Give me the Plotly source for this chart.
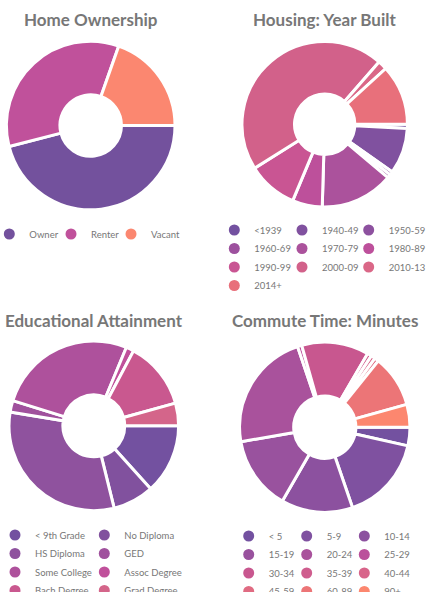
import plotly.graph_objects as go

W, H = 441, 592

# ---------------- data ----------------
titles = ["Home Ownership", "Housing: Year Built", "Educational Attainment", "Commute Time: Minutes"]

home_labels = ["Owner", "Renter", "Vacant"]
home_values = [46.0, 34.4, 19.6]
home_colors = ["#73519d", "#c0519b", "#fb8770"]

year_labels = ["<1939", "1940-49", "1950-59", "1960-69", "1970-79", "1980-89",
               "1990-99", "2000-09", "2010-13", "2014+"]
year_values = [0.8, 8.9, 0.7, 0.7, 14.2, 5.8, 9.7, 45.0, 1.8, 11.7]
year_colors = ["#7351a0", "#80519f", "#8d519f", "#9d519e", "#ab529c", "#bd509b",
               "#c95593", "#d2618a", "#da6787", "#e8707b"]

edu_labels = ["< 9th Grade", "No Diploma", "HS Diploma", "GED", "Some College",
              "Assoc Degree", "Bach Degree", "Grad Degree"]
edu_values = [13.3, 7.8, 31.4, 2.2, 26.4, 1.5, 12.9, 4.3]
edu_colors = ["#7351a0", "#81519e", "#8f529e", "#a0519d", "#ae519c", "#c0509b",
              "#c9588f", "#d4658a"]

commute_labels = ["< 5", "5-9", "10-14", "15-19", "20-24", "25-29", "30-34",
                  "35-39", "40-44", "45-59", "60-89", "90+"]
commute_values = [3.5, 16.1, 13.5, 13.9, 22.4, 0.8, 12.7, 0.8, 0.8, 0.8, 9.8, 4.3]
commute_colors = ["#7351a0", "#7f51a0", "#8c519f", "#99529e", "#a9529c", "#bb509b",
                  "#c8578f", "#cf5d8e", "#d8648a", "#e06b82", "#ec7577", "#fc876f"]

charts = [
    (home_labels, home_values, home_colors),
    (year_labels, year_values, year_colors),
    (edu_labels, edu_values, edu_colors),
    (commute_labels, commute_values, commute_colors),
]

# ---------------- layout geometry (pixels) ----------------
pie_geom = [(90.7, 125.5, 84.3), (324.7, 124.3, 82.7), (93.8, 425.8, 84.8), (324.8, 427.2, 85.2)]
title_pos = [(90.7, 19.5), (324.7, 19.5), (93.8, 320.0), (324.5, 320.0)]
# legend grid: column marker centres (x), first row marker centre (y), row step
legend_cols = [[13.3, 75.0, 135.0], [238.3, 306.0, 372.7], [19.0, 108.3], [252.7, 310.7, 368.3]]
legend_row0 = [234.0, 230.0, 535.0, 536.0]
ROW_STEP = 18.5
MARKER_SHIFT = -4.0   # compromise: plotly puts text 20px right of marker centre (ref: 11px)

TXT = "#777777"
fig = go.Figure()
legend_layouts = {}
leg_count = 0

for i, (labels, values, colors) in enumerate(charts):
    cx, cy, r = pie_geom[i]
    fig.add_trace(go.Pie(
        labels=labels, values=values, sort=False, direction="clockwise", rotation=90,
        hole=0.365, textinfo="none", showlegend=False,
        marker=dict(colors=colors, line=dict(color="white", width=3)),
        domain=dict(x=[(cx - r) / W, (cx + r) / W], y=[1 - (cy + r) / H, 1 - (cy - r) / H]),
        hovertemplate="%{label}: %{percent}<extra></extra>",
    ))
    cols = legend_cols[i]
    ncol = len(cols)
    for k, (lab, col) in enumerate(zip(labels, colors)):
        row, c = divmod(k, ncol)
        if c == 0:
            leg_count += 1
            lid = "legend" if leg_count == 1 else f"legend{leg_count}"
            mx = cols[0] + MARKER_SHIFT
            my = legend_row0[i] + row * ROW_STEP
            legend_layouts[lid] = dict(
                orientation="h", x=(mx - 20) / W, y=1 - (my - 14.5) / H,
                xanchor="left", yanchor="top", borderwidth=0,
                bgcolor="rgba(0,0,0,0)", entrywidthmode="pixels",
                font=dict(family="Lato", size=9.5, color=TXT),
                itemclick=False, itemdoubleclick=False, traceorder="normal",
            )
        last_in_row = (c == ncol - 1) or (k == len(labels) - 1)
        width = 45 if (last_in_row and i in (0, 2) and c > 0 and ncol == 3) else (
            70 if last_in_row else cols[c + 1] - cols[c] - 45)
        fig.add_trace(go.Scatter(
            x=[None], y=[None], mode="markers", name=lab,
            marker=dict(size=11, color=col, symbol="circle"),
            legend=lid, legendwidth=width, showlegend=True, hoverinfo="skip",
        ))

annotations = []
for (tx, ty), t in zip(title_pos, titles):
    annotations.append(dict(
        text=t, x=tx / W, y=1 - ty / H, xref="paper", yref="paper",
        xanchor="center", yanchor="middle", showarrow=False,
        font=dict(family="Lato", size=17, color=TXT, weight="bold"),
    ))

fig.update_layout(
    width=W, height=H,
    margin=dict(l=0, r=0, t=0, b=0, autoexpand=False),
    paper_bgcolor="white", plot_bgcolor="white",
    xaxis=dict(visible=False), yaxis=dict(visible=False),
    annotations=annotations,
    **legend_layouts,
)

fig.write_html("out.html", config={"displayModeBar": False},
               post_script="document.body.style.margin='0px';")
